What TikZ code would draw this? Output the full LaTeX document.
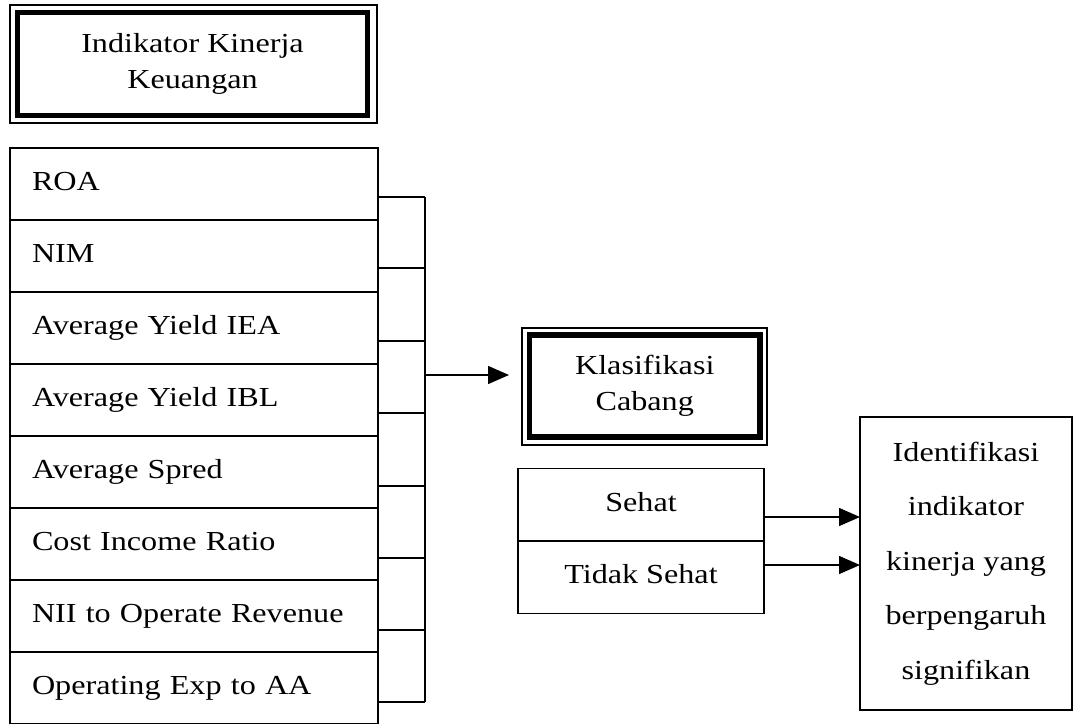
\documentclass[tikz,border=0pt]{standalone}
\usepackage{fontspec}
\setmainfont{Liberation Serif}[FakeStretch=1.17]
\usetikzlibrary{arrows.meta}
\begin{document}
\begin{tikzpicture}[x=1pt,y=-1pt,
  thinln/.style={line width=1.5pt},
  arrowln/.style={line width=1.5pt,-{Triangle[length=21pt,width=18pt]}},
  boldbox/.style={draw,line width=5.5pt,outer sep=0pt,inner sep=0pt,align=center,font=\fontsize{27.5}{36}\selectfont},
  rowbox/.style={draw,line width=1.5pt,outer sep=0pt,minimum width=368pt,minimum height=72pt,inner xsep=22pt,inner ysep=0pt,text width=324pt,align=left,text height=19pt,text depth=6pt,font=\fontsize{27.5}{30}\selectfont},
  classbox/.style={draw,line width=1.5pt,outer sep=0pt,minimum width=246pt,minimum height=72.5pt,inner sep=0pt,align=center,text height=19pt,text depth=6pt,font=\fontsize{27.5}{30}\selectfont},
  identbox/.style={draw,line width=1.5pt,outer sep=0pt,minimum width=212pt,minimum height=293pt,inner sep=0pt,align=center,font=\fontsize{27.5}{54.5}\selectfont}
]
\useasboundingbox (0,0) rectangle (1076,723);

% Title box
\node[boldbox,minimum width=350pt,minimum height=103pt] (title) at (192.5,64) {Indikator Kinerja\\Keuangan};
\draw[thinln] ([shift={(-7.5,-7.5)}]title.north west) rectangle ([shift={(9.5,7.5)}]title.south east);

% Indicator rows
\foreach \t [count=\i] in {ROA,NIM,Average Yield IEA,Average Yield IBL,Average Spred,Cost Income Ratio,NII to Operate Revenue,Operating Exp to AA}
  \node[rowbox] (r\i) at (194,{112+72*\i}) {\t};

% bracket
\foreach \i/\y in {1/197,2/268,3/341,4/413,5/486,6/558,7/630,8/702}{
  \coordinate (b\i) at (425,\y);
  \draw[thinln] (b\i -| r\i.east) -- (b\i);
}
\draw[thinln] (b1) -- (b8);
\coordinate (busmid) at (425,375);
\coordinate (tip) at (509,375);
\draw[arrowln] (busmid) -- (tip);

% Klasifikasi box
\node[boldbox,minimum width=230.5pt,minimum height=102pt] (klas) at (644.75,386) {Klasifikasi\\Cabang};
\draw[thinln] ([shift={(-7.5,-7)}]klas.north west) rectangle ([shift={(7,8)}]klas.south east);

% Sehat / Tidak Sehat
\node[classbox] (sehat) at (641,504.5) {Sehat};
\node[classbox] (tidak) at (641,577) {Tidak Sehat};

% Identifikasi box
\node[identbox] (ident) at (966,563.5) {Identifikasi\\indikator\\kinerja yang\\berpengaruh\\signifikan};

\coordinate (s1) at ([yshift=-12.5pt]sehat.east);
\coordinate (s2) at ([yshift=12pt]tidak.east);
\draw[arrowln] (s1) -- (ident.west |- s1);
\draw[arrowln] (s2) -- (ident.west |- s2);
\end{tikzpicture}
\end{document}
